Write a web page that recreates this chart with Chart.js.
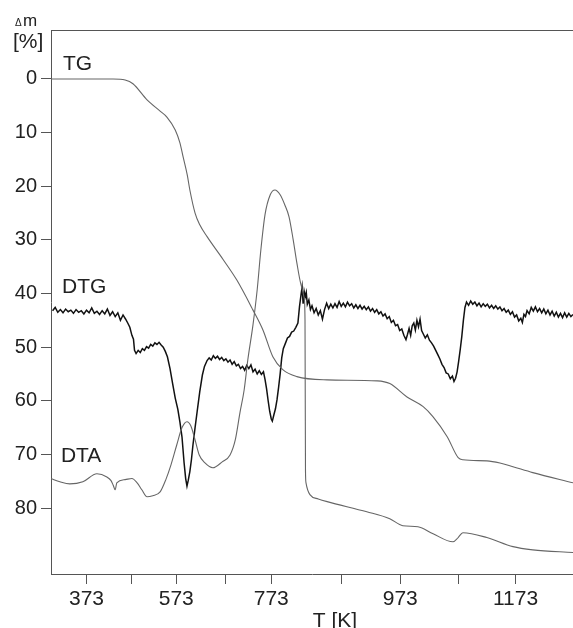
<!DOCTYPE html>
<html><head><meta charset="utf-8">
<script src="https://cdn.jsdelivr.net/npm/chart.js@4.4.0/dist/chart.umd.min.js"></script>
<style>html,body{margin:0;padding:0;background:#fff;}#wrap{width:573px;height:628px;}</style>
</head><body><div id="wrap"><canvas id="c" width="573" height="628"></canvas></div>
<script>
// x axis: heating time (arbitrary units); temperature ticks are placed at the times they were reached
const xTickTimes  = [6.8, 15.5, 24.0, 33.5, 42.2, 55.7, 66.9, 78.0, 89.0];
const xTickLabels = ['373', '', '573', '', '773', '', '973', '', '1173'];
const yTicks = [0, 10, 20, 30, 40, 50, 60, 70, 80];

// TG curve (mass loss, %)
const tgT = [0, 11.9, 14.2, 15.7, 18.4, 20.9, 22.2, 23.8, 24.7, 25.3, 26.1, 26.6, 27.6, 28.5, 29.9, 33.0, 35.6, 38.7, 40.6, 42.5, 44.4, 47.1, 52.9, 62.5, 64.9, 68.2, 71.3, 73.2, 75.9, 78.0, 78.9, 83.5, 86.0, 88.5, 92.3, 100];
const tgV = [0, 0, 0.2, 0.9, 3.9, 6.0, 7.1, 9.5, 11.9, 14.5, 17.9, 20.7, 25.0, 27.2, 29.4, 33.7, 37.5, 43.1, 46.8, 51.8, 54.2, 55.5, 56.1, 56.3, 56.8, 59.3, 61.1, 63.0, 66.7, 70.6, 71.0, 71.2, 71.6, 72.3, 73.4, 75.3];

// DTA curve
const dtaT = [0, 1.7, 3.6, 6.1, 8.8, 10.7, 11.5, 11.9, 12.3, 12.6, 14.2, 15.5, 16.5, 17.4, 18.4, 19.5, 20.9, 22.0, 23.0, 24.1, 25.1, 26.05, 26.8, 27.6, 28.4, 29.5, 31.0, 32.8, 34.3, 35.3, 36.2, 37.0, 37.7, 38.7, 39.5, 40.2, 41.0, 42.0, 42.9, 43.9, 44.8, 45.6, 46.4, 47.1, 47.9, 48.5, 48.66, 48.75, 48.85, 49.6, 51.2, 52.9, 60.5, 64.9, 67.4, 70.3, 73.2, 77.0, 78.0, 78.9, 83.5, 88.5, 92.3, 100];
const dtaV = [74.5, 75.1, 75.5, 75.1, 73.6, 74.2, 74.9, 75.7, 76.6, 75.3, 74.7, 74.5, 75.3, 76.6, 77.9, 77.7, 77.0, 74.7, 71.9, 68.2, 65.0, 63.9, 64.7, 67.3, 70.1, 71.6, 72.5, 71.4, 70.1, 67.3, 62.2, 58.0, 52.4, 45.8, 39.3, 31.9, 25.3, 21.6, 20.7, 21.6, 23.5, 25.7, 30.0, 34.3, 38.4, 40.8, 44.9, 72.9, 75.3, 77.5, 78.3, 78.8, 80.7, 82.0, 83.3, 83.5, 84.8, 86.3, 85.5, 84.6, 85.5, 87.2, 87.8, 88.3];

// DTG curve (noisy record)
const dtgT = [0.3, 0.8, 1.3, 1.8, 2.3, 2.8, 3.3, 3.8, 4.3, 4.8, 5.3, 5.8, 6.3, 6.8, 7.3, 7.8, 8.3, 8.8, 9.3, 9.8, 10.3, 10.8, 11.3, 11.8, 12.3, 12.8, 13.3, 13.8, 14.3, 14.7, 15.1, 15.5, 15.8, 16.0, 16.3, 16.7, 17.1, 17.5, 17.9, 18.3, 18.7, 19.1, 19.5, 19.9, 20.3, 20.7, 21.1, 21.5, 21.9, 22.3, 22.8, 23.3, 23.8, 24.3, 24.7, 25.1, 25.5, 25.8, 26.05, 26.3, 26.6, 26.9, 27.2, 27.6, 28.0, 28.5, 29.0, 29.4, 29.9, 30.3, 30.7, 31.1, 31.5, 31.9, 32.3, 32.7, 33.1, 33.5, 33.9, 34.3, 34.7, 35.1, 35.5, 35.9, 36.3, 36.7, 37.1, 37.5, 37.9, 38.3, 38.7, 39.1, 39.5, 39.9, 40.3, 40.7, 41.0, 41.3, 41.6, 41.9, 42.2, 42.4, 42.7, 43.0, 43.3, 43.6, 43.9, 44.2, 44.5, 44.9, 45.3, 45.7, 46.1, 46.5, 46.9, 47.3, 47.6, 47.9, 48.1, 48.3, 48.5, 48.7, 48.9, 49.1, 49.4, 49.7, 50.0, 50.4, 50.8, 51.2, 51.6, 52.0, 52.4, 52.8, 53.2, 53.6, 54.0, 54.4, 54.8, 55.2, 55.6, 56.0, 56.4, 56.8, 57.2, 57.6, 58.0, 58.4, 58.8, 59.2, 59.6, 60.0, 60.4, 60.8, 61.2, 61.6, 62.0, 62.4, 62.8, 63.2, 63.6, 64.0, 64.4, 64.8, 65.2, 65.6, 66.0, 66.4, 66.8, 67.2, 67.6, 68.0, 68.3, 68.6, 68.9, 69.2, 69.5, 69.8, 70.1, 70.4, 70.7, 71.0, 71.3, 71.7, 72.1, 72.5, 72.9, 73.3, 73.7, 74.1, 74.5, 74.9, 75.3, 75.7, 76.1, 76.5, 76.9, 77.2, 77.5, 77.8, 78.1, 78.4, 78.7, 79.0, 79.3, 79.6, 80.0, 80.4, 80.8, 81.2, 81.6, 82.0, 82.4, 82.8, 83.2, 83.6, 84.0, 84.4, 84.8, 85.2, 85.6, 86.0, 86.4, 86.8, 87.2, 87.6, 88.0, 88.4, 88.8, 89.2, 89.6, 90.0, 90.3, 90.6, 90.9, 91.2, 91.6, 92.0, 92.4, 92.8, 93.2, 93.6, 94.0, 94.4, 94.8, 95.2, 95.6, 96.0, 96.4, 96.8, 97.2, 97.6, 98.0, 98.4, 98.8, 99.2, 99.6, 100];
const dtgV = [43.2, 42.6, 43.5, 43.0, 43.6, 42.9, 43.4, 43.1, 43.7, 43.0, 43.5, 43.2, 43.8, 43.1, 43.6, 42.7, 43.7, 43.3, 43.9, 43.2, 43.8, 42.9, 44.1, 43.4, 44.3, 43.6, 45.0, 44.0, 44.8, 45.5, 46.3, 47.8, 48.5, 50.6, 51.2, 50.6, 51.0, 50.3, 50.6, 49.9, 50.2, 49.5, 49.8, 49.2, 49.5, 49.1, 49.6, 50.0, 50.8, 51.8, 54.0, 56.8, 59.5, 61.6, 64.0, 66.8, 71.6, 74.5, 75.9, 74.8, 73.2, 71.0, 68.2, 65.0, 62.0, 58.3, 55.2, 53.6, 52.5, 52.0, 52.4, 51.6, 52.1, 51.7, 52.3, 51.9, 52.5, 52.2, 52.8, 52.4, 53.2, 52.7, 53.5, 53.2, 54.0, 53.6, 54.3, 53.4, 54.0, 53.3, 54.6, 54.1, 55.0, 54.4, 55.1, 54.6, 56.0, 57.8, 60.0, 62.0, 63.4, 63.8, 62.6, 61.5, 59.8, 57.5, 55.0, 52.0, 50.3, 49.3, 48.3, 48.0, 47.2, 47.0, 46.3, 45.5, 42.5, 40.2, 38.8, 41.9, 39.6, 40.6, 39.8, 42.0, 41.2, 43.0, 42.3, 43.6, 42.8, 44.0, 43.2, 44.8, 43.0, 41.8, 42.8, 42.0, 42.7, 41.9, 42.6, 41.5, 42.4, 41.8, 42.5, 41.6, 42.3, 41.9, 42.7, 42.1, 42.8, 42.2, 42.9, 42.4, 43.0, 42.5, 43.3, 42.8, 43.5, 43.0, 43.8, 43.4, 44.2, 43.8, 44.7, 44.3, 45.4, 45.0, 46.0, 45.8, 46.9, 46.6, 47.8, 48.6, 47.6, 46.5, 47.8, 46.0, 45.5, 46.8, 45.0, 46.2, 44.8, 46.9, 47.5, 48.3, 47.7, 48.7, 49.2, 49.8, 50.6, 51.4, 52.2, 53.2, 53.8, 54.8, 55.0, 55.9, 55.4, 56.4, 55.8, 54.6, 52.6, 50.4, 48.0, 45.0, 42.6, 41.6, 42.2, 41.4, 42.0, 41.6, 42.3, 41.8, 42.5, 41.9, 42.4, 42.0, 42.7, 42.2, 42.8, 42.3, 42.9, 42.5, 43.2, 42.8, 43.5, 43.1, 43.9, 43.4, 44.4, 44.0, 45.1, 44.6, 45.4, 43.9, 44.3, 43.2, 43.8, 42.6, 43.3, 42.5, 43.4, 42.8, 43.6, 42.9, 43.8, 43.1, 44.0, 43.3, 44.2, 43.5, 44.4, 43.7, 44.5, 43.6, 44.4, 43.7, 44.3, 43.9];

const FONT = '"Liberation Sans", Arial, sans-serif';
const pts = (xs, ys) => xs.map((x, i) => ({x: x, y: ys[i]}));

const deco = {
  id: 'deco',
  afterDraw(chart) {
    const {ctx, chartArea: a, scales} = chart;
    ctx.save();
    ctx.strokeStyle = '#555';
    ctx.lineWidth = 1;
    ctx.beginPath();
    ctx.moveTo(a.left, a.top + 0.5);
    ctx.lineTo(a.right, a.top + 0.5);
    ctx.stroke();
    ctx.fillStyle = '#222';
    ctx.textBaseline = 'alphabetic';
    ctx.textAlign = 'left';
    ctx.font = '10px ' + FONT; ctx.fillText('Δ', 15, 26);
    ctx.font = '17px ' + FONT; ctx.fillText('m', 23, 26);
    ctx.font = '21px ' + FONT; ctx.fillText('[%]', 13, 48);
    const lab = [['TG', 2.3, -1.7], ['DTG', 2.1, 40.0], ['DTA', 1.9, 71.5]];
    lab.forEach(l => ctx.fillText(l[0], scales.x.getPixelForValue(l[1]), scales.y.getPixelForValue(l[2])));
    ctx.textAlign = 'center';
    ctx.fillText('T [K]', 335, 627);
    ctx.restore();
  }
};

new Chart(document.getElementById('c'), {
  type: 'line',
  data: {
    datasets: [
      {data: pts(tgT, tgV), borderColor: '#666', borderWidth: 1.1, pointRadius: 0, cubicInterpolationMode: 'monotone'},
      {data: pts(dtaT, dtaV), borderColor: '#666', borderWidth: 1.1, pointRadius: 0, cubicInterpolationMode: 'monotone'},
      {data: pts(dtgT, dtgV), borderColor: '#111', borderWidth: 1.5, pointRadius: 0, tension: 0}
    ]
  },
  options: {
    responsive: false,
    animation: false,
    layout: {padding: {top: 30, left: 0, right: 0, bottom: 0}},
    plugins: {legend: {display: false}, tooltip: {enabled: false}},
    scales: {
      x: {
        type: 'linear', min: 0, max: 100,
        afterBuildTicks: s => { s.ticks = xTickTimes.map(v => ({value: v})); },
        afterFit: s => { s.height = 54; },
        ticks: {autoSkip: false, maxRotation: 0, padding: 3, color: '#222', font: {family: FONT, size: 21},
                callback: (v, i) => xTickLabels[i]},
        grid: {display: true, drawOnChartArea: false, drawTicks: true, tickLength: 10, color: '#555'},
        border: {display: true, color: '#555', width: 1}
      },
      y: {
        type: 'linear', reverse: true, min: -9.13, max: 92.3,
        afterBuildTicks: s => { s.ticks = yTicks.map(v => ({value: v})); },
        afterFit: s => { s.width = 51; },
        ticks: {padding: 4, color: '#222', font: {family: FONT, size: 20}},
        grid: {display: true, drawOnChartArea: false, drawTicks: true, tickLength: 10, color: '#555'},
        border: {display: true, color: '#555', width: 1}
      }
    }
  },
  plugins: [deco]
});
</script></body></html>
